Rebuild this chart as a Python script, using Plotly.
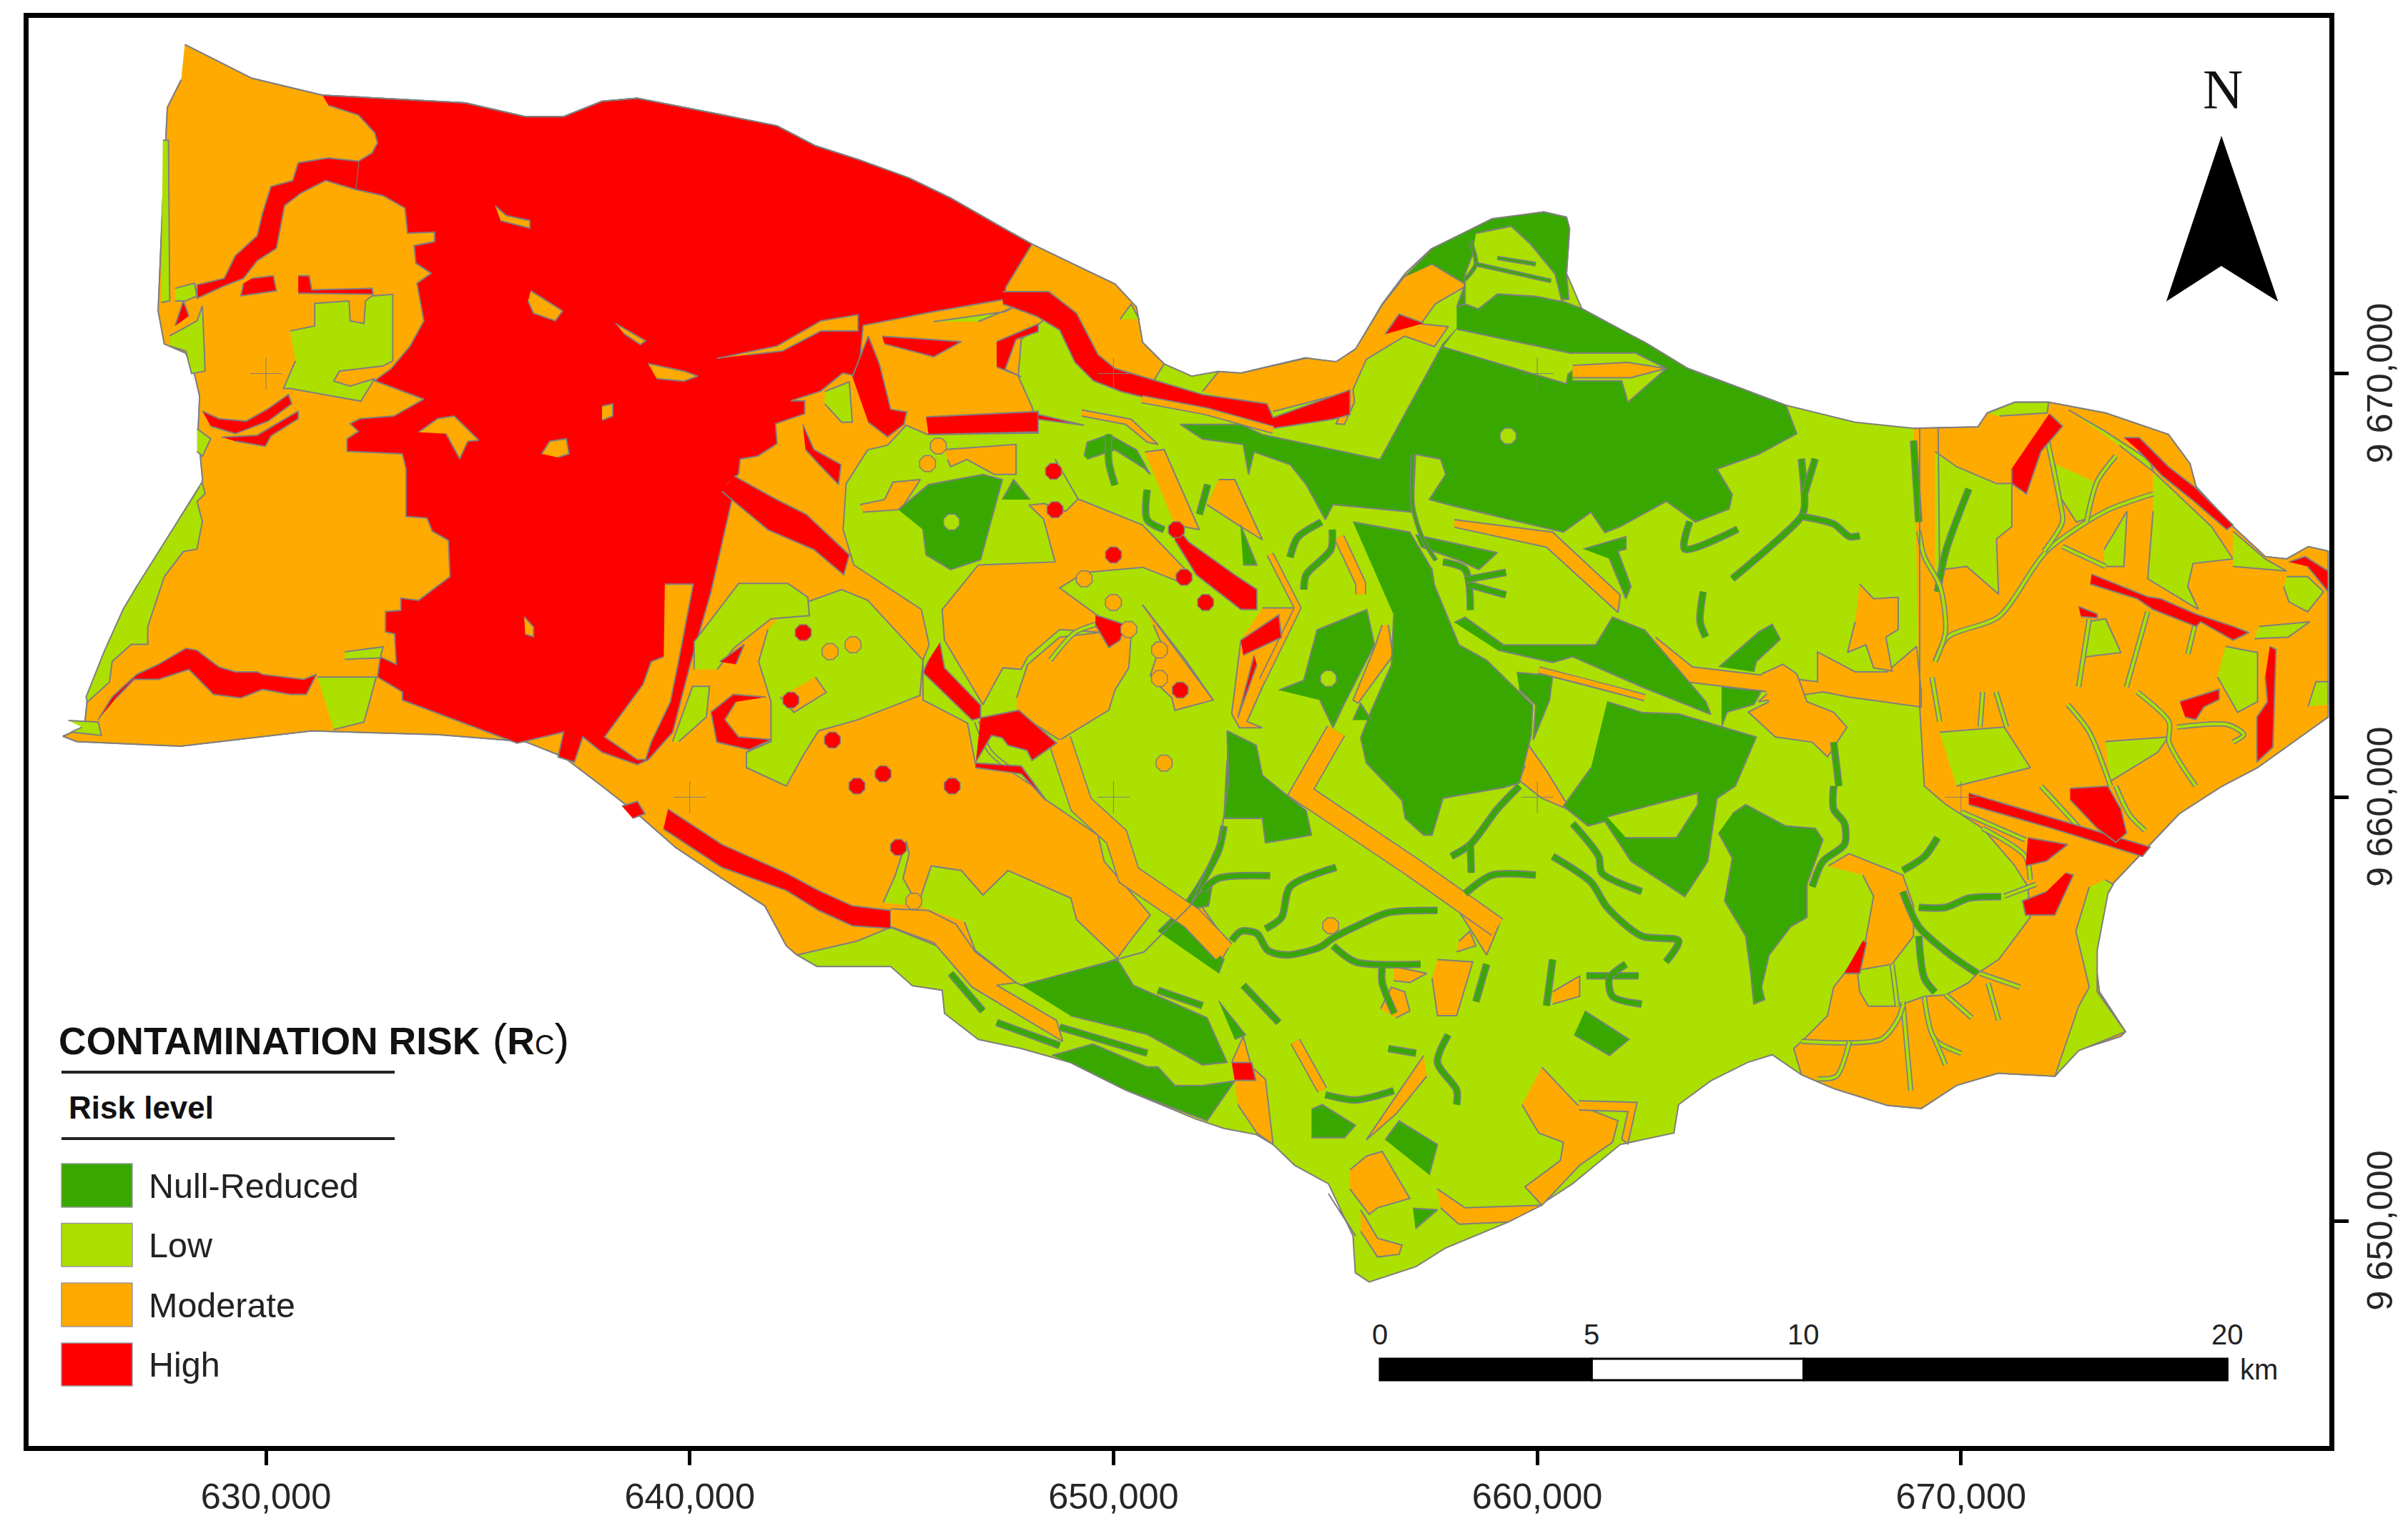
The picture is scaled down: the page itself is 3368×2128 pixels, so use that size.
import plotly.graph_objects as go

# ---------- categories and colours ----------
RISK_LEVELS = ["Null-Reduced", "Low", "Moderate", "High"]
RISK_COLOURS = {"Null-Reduced": "#38A800", "Low": "#ABE000", "Moderate": "#FFAA00", "High": "#FF0000"}
X_TICKS = [630000, 640000, 650000, 660000, 670000]
X_TICK_LABELS = ["630,000", "640,000", "650,000", "660,000", "670,000"]
Y_TICKS = [9650000, 9660000, 9670000]
Y_TICK_LABELS = ["9 650,000", "9 660,000", "9 670,000"]
GRID_CROSSES = [(630000, 9670000), (640000, 9660000), (650000, 9660000), (660000, 9670000),
                (660000, 9660000), (650000, 9670000), (670000, 9660000)]
SCALE_LABELS = [0, 5, 10, 20]

# ---------- digitised map units (sheet grid, georeferenced by to_map below) ----------
BOUNDARY = [(120.4,29),(164,51),(210,62),(303,67),(342,76),(367,76),(392,66),(415,64),(456,72),(506,82),(531,95),(559,104),(592,116),(619,129),(654,149),(672,159),(726,185),(740,200),(744,223),(758,237),(776,245),(793,242),(808,243),(850,233),(870,236),(883,227),(900,198),(915,178),(932,162),(972,143),(1005,138),(1020,141.5),(1022,149),(1020,178),(1030,201),(1039,209.5),(1071,223),(1099,240),(1163,264),(1208,275),(1246,279),(1288,278),(1294,269),(1312,262),(1334,262),(1371,269),(1412,283),(1426,302),(1430,317),(1454,343),(1475,362.5),(1489,364),(1503,356),(1516,359),(1516,467),(1470,500),(1447,512),(1419,530),(1372.5,579),(1364,622),(1367,646),(1384,672),(1381,675),(1353,684),(1338,701),(1301,699),(1274,707),(1251,722),(1229,720),(1194,709),(1173,700),(1154,687),(1138,692),(1114,704),(1093,719.5),(1090,738),(1055,745.5),(1024,771),(1004,784),(982,796),(941,813),(922,825),(891.5,835),(882.5,829),(881,805),(865,771),(843,759),(829,745.5),(818,739),(797,735),(779,729),(733,710),(697,692),(665,683),(637,677),(615,660),(613.5,645),(594,642),(580,629.5),(532,629.5),(519,622),(512,616),(498,590),(470,572),(440,552),(415,530),(392,512),(367,493),(342,483),(285,478.5),(203,476),(118,486),(50,483),(41,479.5),(55,473.6),(57,454),(68,425),(82,398),(93,379),(118,336),(132,313.5),(129,281),(130,258),(126.5,243),(121,230),(107,224),(103,202.5),(106,131),(109,70),(118,52)]

MODERATE_BASE = [
 [(120.4,29),(164,51),(210,62),(303,67),(342,76),(367,76),(392,66),(415,64),(456,72),(506,82),(531,95),(559,104),(592,116),(619,129),(654,149),(672,159),(726,185),(740,200),(744,223),(758,237),(750,250),(726,248),(710,240),(695,215),(680,208),(665,221),(663,245),(672,265),(676,282),(604,283),(590,277),(578,290),(565,293),(551,315),(549,345),(556,368),(600,397),(605,420),(601,430),(601,456),(630,471),(635,497),(665,499),(681,521),(715,544),(719,561),(749,596),(738,610),(727.6,624),(700,640),(620,620),(580,604),(558,613),(519,622),(512,616),(498,590),(470,572),(440,552),(415,530),(392,512),(367,493),(342,483),(285,478.5),(203,476),(118,486),(50,483),(41,479.5),(55,473.6),(57,454),(68,425),(82,398),(93,379),(118,336),(132,313.5),(129,281),(130,258),(126.5,243),(121,230),(107,224),(103,202.5),(106,131),(109,70),(118,52)],
 [(1246,279),(1288,278),(1294,269),(1312,262),(1334,262),(1371,269),(1412,283),(1426,302),(1430,317),(1454,343),(1475,362.5),(1489,364),(1503,356),(1516,359),(1516,467),(1470,500),(1447,512),(1419,530),(1372.5,579),(1364,622),(1367,646),(1384,672),(1381,675),(1353,684),(1338,701),(1301,699),(1274,707),(1251,722),(1229,720),(1194,709),(1173,700),(1168,683),(1176.6,675),(1190,661.5),(1194,643),(1201,634),(1209.5,634),(1211,646),(1216.5,655.4),(1235.5,655.4),(1253,649),(1267,648),(1282,640),(1287.6,634),(1301.4,625),(1322,597.5),(1320.5,577.6),(1312,564),(1291,539.5),(1267,524),(1253,512),(1250,460)],
 [(783,255),(793.5,242),(808,243),(850.5,233.3),(870,235.6),(882.6,227.4),(900.4,198),(914.6,180),(932.4,172),(950.3,175.2),(954,186.6),(934.5,198),(925.3,211),(943,212.7),(934,225.8),(914.6,219),(889.7,234),(881,253.6),(882,262),(875.4,276.4),(870,276),(879,255),(829,268)],
 [(1190.5,564),(1204,556),(1239,570),(1246,590),(1246,609.7),(1232,628),(1214.7,631),(1201,634),(1214.7,612.7),(1220,583.7),(1213,570)],
]

HIGH_BASE = [
 [(210,62),(303,67),(342,76),(367,76),(392,66),(415,64),(456,72),(506,82),(531,95),(559,104),(592,116),(619,129),(654,149),(672,159),(655,187),(654,195),(608,203),(583,208),(562,212),(559,245),(548.7,243),(534.5,254.7),(515,261),(524,261),(524,269.5),(505,276),(506,289),(493.5,297),(482,299),(481,308.6),(474,315),(477.4,321.7),(463,385.4),(449,434.4),(438,477),(422,495),(415,498),(392,490),(379.5,480),(374,496.4),(363.4,493),(367,476.8),(336.7,484),(262,456),(262,450.7),(245.8,441),(247.6,427.8),(258,432.7),(257,413),(251,411.5),(251,398.4),(261,397.5),(261,389.6),(272.6,391),(293,375.6),(292,352),(281.5,346),(278,337.4),(264.4,336.4),(264.4,305.4),(262,295.6),(226,294),(226,285.8),(233.4,281),(228,276),(234.4,272.7),(256.5,271),(276,260),(244,248),(254.8,240),(267,225.4),(276,209),(271.5,184.5),(280.8,178),(270.8,171.5),(269.7,160),(283,157.4),(283,151.2),(265.4,151.9),(263.7,135.5),(249.4,127.4),(231.6,123.5),(233.4,105),(242.3,99.6),(245.8,93),(244,86.5),(233.4,75),(213.8,68.6)],
 [(233.4,105),(213.8,102.9),(194.2,106),(190.6,117.6),(176.4,121.5),(171,138.8),(167.5,153.5),(153.2,166.6),(146,181.3),(128.3,185.5),(128.3,194.3),(146,186.2),(158.6,181.3),(167.5,169.8),(180,161.7),(183.5,143.7),(185.3,133.9),(196,125.7),(212,117.6),(231.6,123.5)],
 [(164,181.3),(178,179.6),(180,189.4),(156.8,192.7),(158.6,184.5)],
 [(194.2,179.6),(201.3,179.6),(203,188.8),(242.3,187.8),(243,191.7),(194.2,191)],
 [(114,212.3),(119.4,196),(123,205.8)],
 [(131.8,267.8),(142.5,272.7),(160.3,274.3),(174.6,266.2),(187.8,257),(190,263),(174.6,274.3),(153.2,282.5),(137.2,277.6)],
 [(144.3,284.8),(167.5,283.5),(194.2,267.8),(194.2,272.7),(176.4,284),(172.8,290.7),(153.2,287.4)],
 [(64,468.7),(73,454),(89,439.3),(103.3,432.7),(121,422.3),(128.3,423.6),(142.5,434.4),(153.2,437.6),(167.5,437.6),(171,439.3),(197.7,442.5),(206,439.3),(199.5,452.3),(188.8,452.3),(171,449),(156.8,454.6),(139,452.3),(123,436),(103.3,442.5),(87.3,442.5),(74.8,455.6)],
 [(653,190),(683,190),(701,204),(715,231),(726,240),(783,257),(825,263),(829,272),(879,254),(879,270),(868,273),(829,279),(790,270),(730,255),(712,248),(700,236),(690,215),(675,206),(653,198)],
 [(478,310),(505,325),(525,335),(553,361.4),(549.4,374.4),(530,358),(500,345),(470,320)],
 [(612,418.5),(615,435),(638.5,459.3),(638.5,467.5),(633,469),(601,438),(604.6,430)],
 [(435,527),(470,550),(512,568.7),(533,580),(555,590),(580,593),(580,604.7),(555,603),(533,593),(512,580),(470,565),(432,540)],
 [(405,525),(415,522),(420,530),(412,533)],
 [(555,245.4),(565.4,219),(572.6,237),(580,266.6),(590.4,268.3),(588.6,276.4),(578,284.6),(565.4,275)],
 [(522.7,276.4),(530,292.8),(547.6,302.6),(546,315.6),(533.4,302.6),(524.5,292.8)],
 [(574.4,219),(626,222.5),(608,232.4),(576,224)],
 [(649,222.5),(676,211),(676,216),(661.6,221),(654.5,240.5),(665,245.4),(649,239)],
 [(603,271.5),(676,268),(676,281.3),(604.6,283)],
 [(676,270),(706,277),(676,273)],
]

MODERATE_ISLANDS = [
 [(322.4,134),(329.6,140.4),(345,143.7),(345,148.6),(326,143.7)],
 [(345.6,189.4),(356.3,196),(366.3,202.5),(361.6,209),(347.4,204),(343.8,196)],
 [(400.8,210.7),(420.4,222),(416.9,224.4),(406.2,217.2)],
 [(422,236.8),(445.4,241.7),(454.3,245),(445.4,248.2),(427.6,246.6)],
 [(392,264.5),(399,263),(399,271),(392,273.7)],
 [(352.7,295.6),(358,287.4),(368.8,285.8),(370.5,295.6),(363.4,297.9)],
 [(272.6,281.5),(285,272.7),(295.7,271),(311.8,286.8),(304.6,287.4),(299.3,298.8),(290.4,282.5)],
 [(341.3,401.7),(347.4,408.3),(347.4,414.8),(342,413)],
 [(466.8,233.5),(506,225.4),(534.5,209),(558.7,205),(558.7,215.6),(534.5,215.6),(509.5,228.6),(486.3,231.2)],
 [(432.9,380.5),(451.4,380.5),(441.8,431),(436.5,457.2),(424,483.4),(420.4,494.8),(415,494.8),(393.7,480),(418.7,445.8),(424,431),(432.2,427.8)],
]

LOW_PATCHES = [
 [(106,91.4),(109.7,91.4),(110.5,196),(105,197)],
 [(110.5,218.8),(128.3,209),(131.8,199.2),(133.6,241.7),(124.7,243.3),(121,228.6),(110.5,225.4)],
 [(114,187.8),(126.5,184.5),(128.3,192.7),(121,196),(114,196)],
 [(188.8,215.6),(204.9,212.3),(204.9,197.6),(227.3,196),(228,209),(237,210.7),(238,196),(242.3,192.7),(255.8,191.7),(255.8,235),(249.4,238.4),(221,241.7),(217.3,248.2),(228,251.5),(244,246.6),(235,261.3),(188.8,253),(184.6,253),(192.4,235)],
 [(128.3,279.2),(137.2,285.8),(131.8,297.2),(128.3,294)],
 [(131.8,315),(133.6,321.7),(128.3,326.6),(131.8,339.7),(128.3,357.6),(119.4,359.3),(107,375.6),(96.2,408.3),(96.2,419.7),(85.5,419.7),(73,431),(71.3,444.2),(57,457.2),(56,454),(67.7,424.6),(80.2,396.8),(89,382),(117.6,336.4),(130,316.8)],
 [(206.7,441),(245,441),(237,470.3),(217.3,475.2)],
 [(44.5,469.3),(64,470.3),(66,479),(46.3,476.8),(53.4,473.6)],
 [(224.5,424.6),(249.4,421.3),(247.6,428.5),(224.5,429.5)],
 [(512,397),(548,384),(565,391),(601,430),(599,453),(558,469),(533,476),(523,492),(512,512),(486,500),(486,490),(502,483),(502,457),(494,431),(500,410)],
 [(452,436),(452,418),(481,380),(513,380),(526,389),(527,401),(502,403),(478,422),(467,436)],
 [(438,483),(451,447),(462,447),(460,467),(442,483)],
 [(537,255),(553,248.7),(555,275),(548,275),(537,263)],
 [(608,209.5),(654.5,203),(660,200),(637,209.5)],
 [(729.3,208),(736.5,198),(741.8,208)],
 [(597.5,590),(606.4,564),(626,567),(640,583),(656.3,567),(697.3,585),(701,599),(727.6,624.3),(697.3,635.6),(665,641.7),(661.6,640),(635,619),(628,600.5)],
 [(575,588),(583,570),(590,548),(592,556),(588,572),(598,590)],
 [(1260,294),(1274,304),(1300,315),(1310,315),(1310,343),(1300,351),(1301.4,387),(1280.6,369),(1267,370.7),(1260,375.6)],
 [(1338,302),(1341,323),(1352,340),(1359,338),(1366,315)],
 [(1402,307),(1440,343),(1454,364),(1428,367),(1424.6,382),(1431.5,397),(1398.5,377),(1402,333)],
 [(1347,267),(1371,281),(1400,300),(1402,307),(1380,290)],
 [(1454,346),(1475,364),(1489,372),(1454,369)],
 [(1489,375.6),(1502.6,375.6),(1513,385.4),(1502.6,398.5),(1490.4,392),(1487,382)],
 [(1370,358),(1385,333),(1383,369),(1370,369)],
 [(1449,421),(1470,425),(1470,457),(1457,464),(1444,441)],
 [(1503,460),(1508,444),(1516,444),(1516,459)],
 [(1359,405),(1371,403),(1381,425),(1357,428)],
 [(1263,477),(1305,473.6),(1322,500),(1274,512)],
 [(1371,483),(1412,480),(1405,490),(1374,509)],
 [(1471,408),(1504,405),(1490,415),(1468,416)],
 [(1294,269),(1312,262),(1334,262),(1333,269),(1302,271)],
 [(1371,573),(1376,576),(1372.6,582),(1365.6,619),(1365.6,646),(1384,672),(1353.5,684.4),(1338,701),(1353.5,655.4),(1360.4,643),(1351.7,606.6),(1360.4,577.6)],
]

MODERATE_PATCHES = [
 [(687,299),(702,325),(744,342),(772,371),(768,379),(744,369.5),(706,373),(690,383),(719,404),(719,412),(690,410),(669,428),(665,436),(653,435),(640,459),(615,417),(613.5,397),(637,368),(687,366),(679.5,338),(670,329),(680,328),(694,333),(702,325)],
 [(662,454.5),(669,433),(690,415),(715,412),(736.5,413.6),(735,435),(726,449.5),(722,462.6),(690,482),(662,464)],
 [(744,394),(790,456),(765,462.6),(763,454.5),(754,446),(749,440),(756,418.5),(751,407)],
 [(560,328.7),(576,325.4),(581.5,314),(599.3,312.4),(588.6,328.7),(585,332),(562,333.6)],
 [(615,292.8),(661.6,289.5),(661.6,309),(647.4,309),(629.6,299.3),(619,304),(617,299.3)],
 [(704.4,267),(736.5,273),(754,289.5),(747,288),(733,276.4),(704.4,271)],
 [(745.4,294.4),(758,292.8),(781,345),(765,342)],
 [(793.5,312.4),(804,312.4),(822,351.6),(806,341.8),(786,328.7)],
 [(822,396),(845,396),(812,470),(822,474),(807,474),(802,465),(808,417)],
 [(580,592),(604.6,593),(622.5,602),(635,620),(661.6,640),(649,641.7),(688,664.6),(692,678.3),(633,643),(608,614),(580,603.6)],
 [(531,441),(538,451),(517,464),(508,454)],
 [(802,692),(809.5,675),(815,695),(824,703),(829,745.5),(818.4,738),(806,719.5)],
 [(927,687.5),(889.7,742.4),(909,725.6),(929,701)],
 [(936,625),(959,626.5),(948.5,661.6),(936,661.6),(932.5,637)],
 [(907.5,629.5),(929,634),(918,640),(907.5,638.7)],
 [(899,657),(906,643),(914.6,646),(918,658.5),(909,663)],
 [(950,613),(957,606.6),(961,616),(948.5,620)],
 [(936,571.5),(977,600.5),(968,622),(950.3,594)],
 [(1011,646),(1028.6,635.6),(1028.6,649),(1011,654)],
 [(1004,695),(1027,719.5),(1053.6,730),(1050,744),(1028.6,759),(1004,785),(993,773),(1016,756),(1018,744),(1002,738),(991,719.5)],
 [(936,774.5),(954,786.7),(1004,785),(982,796),(950,797.4),(938,786.7)],
 [(879,762),(889.7,753),(900,750),(918,780.6),(897,786.7),(891.5,791),(879,774.5)],
 [(886,788),(897,806.5),(913,811),(911,817),(897,818.7),(886,802)],
 [(947,338.5),(1011,346.6),(1055,387.5),(1053.6,399),(1007,356.4),(947,343.4)],
 [(904,407),(907,427),(884.3,458),(881,456),(895,422),(900,407)],
 [(1078,415),(1102,434.4),(1183.5,444),(1183.5,424.6),(1208,437.6),(1228.6,437.6),(1248,421),(1251,450.7),(1251,460.5),(1204,454),(1187,450.7),(1145,457),(1152,450.7),(1097,444),(1078,424.6)],
 [(1147,439),(1161,432.7),(1170,439),(1176.6,457),(1194,464),(1202.6,473.6),(1190,493),(1180,483.4),(1156,480),(1138.4,463.8),(1152,457)],
 [(1211,380.5),(1220,390),(1236,389),(1236,410),(1228,415),(1232,437),(1220,435),(1215,420),(1203,425),(1208,405)],
 [(993,482),(1007,502),(1023,528),(1004,520),(989.4,508.4),(993,498.5)],
 [(768.5,600),(781,588.3),(800.6,616),(795,626)],
 [(1028,717),(1066,718),(1060,745),(1056,742),(1060,724),(1028,723)],
]

NULL_AREAS = [
 [(915,180),(932.4,162),(971.6,142.5),(1005.5,138),(1020,141.5),(1022,149),(1020,178.5),(1021.5,195),(954,198),(948.5,200),(954,185),(932.4,172)],
 [(948.5,200),(975,191.5),(1000,193),(1018,196.4),(1030,201),(1071,223),(1099,240),(1163,264),(1170,282.5),(1145,296),(1118,305.5),(1128,322),(1126,331.5),(1104,340),(1085,326.6),(1055,343),(1045,347),(1036,333.6),(1018,346.6),(1004,343.4),(943,328.7),(930.7,325.4),(941.4,309),(938,299),(921.7,296),(920,333.6),(868,328.7),(863,338.5),(850.5,315.6),(840,302.6),(816.6,294.4),(813,309),(809.5,289.5),(783,286),(768.5,276.4),(808,276.4),(822,283),(898.6,299.3),(939.6,224),(948.5,214.4)],
 [(881,340),(918,346.6),(932.5,371),(934,381),(950,420),(968,430),(998,459.3),(997,479),(989.4,510),(979,513),(950,518),(939.6,520),(932.5,544),(927,544),(915,533),(913,521.4),(889.7,497),(886,480.6),(893,462.6),(906,433),(907.5,400.5)],
 [(832.7,449.5),(849,443),(857.6,410.3),(890,397),(895,420),(875.5,458),(868,474),(859.4,456)],
 [(881,469),(886,458),(893,469)],
 [(1046.5,457),(1069,464),(1093,465),(1143.6,480),(1130,512),(1118,520),(1112,561),(1097,584),(1062,561),(1045,535),(1034,538),(1018,525),(1036,500)],
 [(1128,530),(1136.7,524),(1162.7,538),(1182,539.5),(1187,547),(1176.6,576),(1176.6,597.5),(1166,603.6),(1152,622),(1147,643),(1149,651),(1142,654),(1140,634),(1136.7,609.7),(1123,586.8),(1128,559),(1119,542.5)],
 [(799,476),(818,485.4),(822,505),(850.5,528),(854,544),(824,549),(822,533),(797,533),(799,495)],
 [(585,332),(604.6,315.6),(640,309),(652.7,312.4),(638.5,364.6),(619,371),(603,361.4),(601,345)],
 [(652.7,325.4),(660,312.4),(670.6,325.4)],
 [(921.7,348.3),(975,360),(963,371),(950,365),(925,356)],
 [(947,405.4),(954,402),(979,420),(1039,420),(1050,402),(1071,410.4),(1110.7,457),(1114,465.4),(1069,447.4),(1024,427.8),(1011,431.6),(975,423.4)],
 [(987.6,438),(1011,440),(1009,456),(998.4,482),(1000,459.3),(989.4,449.5)],
 [(1119.4,434.4),(1145.4,411.5),(1154,406.6),(1159.2,416.4),(1143.6,431),(1142,437.6)],
 [(1031,357.6),(1058.7,349.5),(1058.7,357.6),(1053.5,359),(1062,382),(1058.7,390),(1048,364)],
 [(1121,447.4),(1147,450),(1142,458.9),(1124.6,463.8),(1121,473.6)],
 [(1032,658.5),(1060.7,677),(1048,687.5),(1025,674)],
 [(854,722.5),(861,719.5),(882.6,733),(875.5,741),(854,741)],
 [(902,742.4),(911,730),(936,745.5),(930.7,765.3)],
 [(920,787),(936,788),(921.7,800.4)],
 [(865,777.5),(882.6,805),(872,788)],
 [(665,641.7),(727.6,625),(738,641.7),(786,663),(799,692),(783,693.6),(747,673.8),(697,661.6)],
 [(685,687.5),(711.5,680),(747,695),(754,695),(765,707),(783,707),(804,704),(786,730),(733,710),(697,692)],
 [(754,606.6),(765,596),(797,625),(793.5,634)],
 [(793.5,652),(811,674),(804,677)],
 [(774,588),(783,580),(790,572),(787,590),(776,592)],
 [(706,297),(708,288),(722,283),(740,293),(749,309),(745,305),(726,293),(708,299)],
 [(807.7,341.8),(818.4,368),(809.5,368)],
]

LOW_ON_NULL = [
 [(961,152),(984,147.4),(996.6,159),(1012.6,178.5),(1017,196.4),(1000,193),(975,191.5),(962.7,201.3),(954,198),(954,178.4),(959,165.4)],
 [(948.5,214.4),(1034,232.4),(1021,244),(1020,250),(939.6,226)],
 [(1046.5,532),(1105.5,516.6),(1105.5,524),(1091.6,545.6),(1058.7,545.6)],
 [(1024,230),(1065,230),(1085,240),(1060,262),(1056,248),(1024,248)],
]
MODERATE_OVER_LOW = [
 [(1024,238),(1060,236),(1085,240),(1062,246),(1024,246)],
]

HIGH_TOP = [
 [(638.5,467.5),(663.4,462.6),(688,484),(672,495.3),(668.8,488.8),(656.3,485.4),(652.7,480.6),(645.6,479),(635,497),(665,499),(681,521.4),(665,504),(635,500)],
 [(765,341.8),(774,353),(804,374.4),(818.4,384),(818.4,397),(808,397),(779,374.4),(765,351.6)],
 [(808,417),(832.7,400.5),(834.4,415.2),(809.5,426.7)],
 [(816.6,426.7),(806,467.5),(818.4,433)],
 [(713.3,400.5),(733,407),(729.3,417),(722,421.8),(713.3,407)],
 [(498.8,454),(477.4,452.3),(463,463.8),(466.8,483.4),(488,488.3),(502.4,481.7),(481,480),(472,468.7),(479.2,457.2)],
 [(468.6,431),(484.6,419.7),(479.2,432.7)],
 [(902,217.6),(911,204.6),(927,210.5)],
 [(1334.4,269.4),(1343,277.6),(1329,294),(1319.5,321.7),(1310,315),(1310,305)],
 [(1383,285),(1393,285),(1412,304),(1430,318),(1454,342),(1450,345),(1428,326),(1408,310),(1392,293)],
 [(1490.4,366),(1501,362.5),(1516,372),(1516,385.4),(1502.6,369)],
 [(1362,374),(1398.5,388.7),(1407,390),(1430,400),(1454,408),(1464.4,412),(1454,417),(1433,405),(1430,408),(1402,397),(1391.6,390),(1361,380.5)],
 [(1353.5,395),(1365.6,400),(1365.6,402.4),(1355,401.7)],
 [(1478,421),(1482,423),(1480,486.6),(1469.6,496.4),(1469.6,467),(1476.5,457),(1475,441)],
 [(1419.4,457),(1445,449),(1445,455.6),(1435,460.5),(1429.8,468.7),(1422.8,467)],
 [(1282,516.6),(1400,551.7),(1395,557.8),(1336,539.5),(1282,524)],
 [(1348,513.5),(1372.5,512),(1381,527),(1384.7,542.5),(1377.7,548.6),(1365.6,539.5),(1348,521)],
 [(1320.5,545.6),(1346.5,550),(1332.6,560.8),(1319,564)],
 [(1345,568.5),(1350,570),(1338,596),(1319,596),(1317,586.8),(1332.6,580.7)],
 [(1213,612.7),(1215.4,614),(1211,634),(1201,634)],
 [(802,692),(815,692),(817.7,703.7),(804,703.7)],
]

MODERATE_CORRIDORS = [
 [(870,476),(847,516),(920,565),(975,604)],
 [(690,482),(704,524),(727,545),(735,570),(776,598),(797,620)],
 [(1002,436.4),(1028.6,443),(1071,454.4)],
 [(843.4,678.3),(861,710)],
 [(743.6,260),(786,268),(829,280)],
 [(872,350),(886,380),(886,387)],
 [(827,361),(845,396),(822,443)],
]
CORRIDOR_WIDTHS = [26, 30, 7, 12, 8, 12, 7]

NULL_RIVERS = [
 [(1194,512),(1194,527),(1201,536.4),(1201,550),(1187,561),(1180,577.6)],
 [(1239,580.7),(1249.4,603.6),(1270,622),(1287.6,634)],
 [(1249.4,591),(1267,591),(1282,585),(1303,584)],
 [(1249.4,609.7),(1253,637),(1260,646.3)],
 [(1239,567),(1253,558),(1261.6,545.6)],
 [(797,538),(793.5,554),(783,574),(774,588)],
 [(783,580),(793.5,572),(827,570.4)],
 [(824,605),(834.5,597.5),(840,577.6),(870,565)],
 [(802,612.7),(808,606.6),(818.4,608),(825.5,619),(838,622),(859.4,617),(868,611),(882.6,603.6),(904,594.4),(936,593)],
 [(868,616),(882.6,626.5),(925,628)],
 [(900,629.5),(900,640),(908,660)],
 [(954,582),(971.6,570),(1000,570)],
 [(1011,557.8),(1036,574.6),(1046.5,591),(1069,609.7),(1093,612.7),(1084.7,626.5)],
 [(1024,536.4),(1041,557.8),(1043,568.5),(1069,580.7)],
 [(945,557.8),(957.4,550),(975,527),(989.4,512)],
 [(957.4,550),(958,568.5)],
 [(1033,635.6),(1067,635.6)],
 [(1058.7,628),(1048,637),(1050,649),(1069,654)],
 [(1011,625),(1007,655)],
 [(904,683),(922,686)],
 [(943,674),(936,692),(948.5,710),(948.5,719.5)],
 [(968,628),(961,652.4)],
 [(863,713),(882.6,716.5),(907.5,710.4)],
 [(809.5,641.7),(825.5,658.5),(832.7,666)],
 [(619,634),(640,658.5)],
 [(649,666),(690,681)],
 [(690,669),(747,686)],
 [(754,645),(783,655)],
 [(840,363),(845,350),(860.5,340)],
 [(849,384),(850.5,374.4),(866.5,358),(867.5,345)],
 [(939.6,366),(954,371),(957.4,397.3)],
 [(954,377.7),(980.6,372.8)],
 [(957.4,381),(980.6,387.5)],
 [(1173,298.8),(1175,330),(1173,336.4),(1128,377)],
 [(1173,336.4),(1194,341.3),(1204.3,349.5),(1211,349)],
 [(1182,298.8),(1175,321.7)],
 [(1100.3,339.7),(1097,357.6),(1131.5,344.6)],
 [(1109,385.4),(1107,405),(1110.7,414.8)],
 [(1194,483.4),(1197.4,512)],
 [(1246,287),(1249.4,340)],
 [(1282,318.4),(1267,359),(1261.6,385.4)],
 [(747,319),(747,338.5),(758,345)],
 [(786.4,315.6),(781,335)],
 [(722,283),(722,301),(726,316)],
]
NULL_RIVER_WIDTH = 7
NULL_CREEKS = [
 [(957.4,157),(961,172),(954,182)],
 [(961,172),(1010,183)],
 [(975,168),(1000,172)],
 [(920,296),(920,330),(926,350),(935,365)],
]
NULL_CREEK_WIDTH = 3

LOW_STREAMS = [
 [(1402,321.7),(1371,333),(1332.6,359),(1301.4,401.7),(1268.5,414.8),(1260,431)],
 [(1332.6,284),(1341.3,326.6),(1343,339.7),(1331,359)],
 [(1249.4,346),(1253,362.5),(1263.3,382),(1266.8,411.5),(1260,431)],
 [(1377.7,297),(1365.6,313.5),(1358.7,339.7)],
 [(1343,356),(1371,369)],
 [(1258,441),(1263,470)],
 [(1291,450.7),(1289.3,473.6)],
 [(1299.7,450.7),(1306.6,473.6)],
 [(1346.5,458.9),(1360.4,476.8),(1374.3,512)],
 [(1391.6,450.7),(1412.4,470.3),(1412.4,483.4),(1429.8,512)],
 [(1398.5,398.4),(1384.7,447.4)],
 [(1429.8,405),(1424.6,426)],
 [(1360.4,403.3),(1353.5,447.4)],
 [(1417.6,473.6),(1450.6,472),(1461,478.5),(1454,483.4)],
 [(1239,652.4),(1244.2,710.4)],
 [(1253,649.3),(1259.8,676.8),(1277,686)],
 [(1259.8,676.8),(1266.8,693.6)],
 [(1173,678.3),(1225,676.8),(1235.5,664.6),(1239,655.4)],
 [(1204.3,678.3),(1195.7,701),(1183.5,702.7)],
 [(1267,648),(1284,663)],
 [(1289.3,634),(1315.3,643)],
 [(1294.5,640.2),(1301.4,664.6)],
 [(1232,628),(1235.5,655.4)],
 [(1277,528.8),(1318.8,547)],
 [(1291,539.5),(1318.8,557.8),(1322,573)],
 [(1305,583.7),(1325.7,576)],
 [(1377.7,512),(1386.4,530.3),(1396.8,541)],
 [(1329,512),(1357,542.5)],
 [(684,430),(700,412),(716,406)],
 [(636,470),(645,490),(672,510)],
]
LOW_STREAM_WIDTH = 4

BOUNDARY_LINES = [
 [(799,476),(800,510),(795,545),(775,590),(745,620),(727,625)],
 [(744,394),(772,430),(790,456)],
 [(1250,279),(1250,460)],
 [(1262,279),(1263,374)],
]

HIGH_DOTS_E = [(686,307),(725,361.4),(771,376),(766,345),(785,392.4),(523,412),(558,512),(575,504),(620,512),(585,552),(542,482),(515,456),(768.5,449.5),(687,332)]
MODERATE_DOTS = [(611,290.5),(604,302),(540.5,424.4),(555.5,420),(758,497),(595,587),(866.5,603),(725,392.4),(706,377),(735,410),(755,423.4),(755,442)]
LOW_DOTS = [(619.6,340),(865,442),(982,284)]

NORTH_ARROW = [(1446.4,88.8),(1483,196),(1446.4,173),(1410.7,196)]

# ---------- sheet geometry ----------
W, H = 3368, 2128
L, R, T, B = 40, 110, 25, 105
PX_PER_KM = 59.27
X0_PX, Y0_PX = 372.0, 522.6      # pixel position of 630,000 / 9 670,000
SHEET = 2.148

def E_of_px(p): return 630000 + (p - X0_PX) / PX_PER_KM * 1000
def N_of_px(p): return 9670000 - (p - Y0_PX) / PX_PER_KM * 1000
def to_map(points):
    return [E_of_px(p[0] * SHEET) for p in points], [N_of_px(p[1] * SHEET) for p in points]
def fx(p): return (p - L) / (W - L - R)
def fy(p): return 1 - (p - T) / (H - T - B)

GREY = "#7f7f7f"
fig = go.Figure()

def area(points, level, edge=GREY, lw=2):
    xs, ys = to_map(points)
    fig.add_trace(go.Scatter(x=xs, y=ys, mode="lines", fill="toself", fillcolor=RISK_COLOURS[level],
                             line=dict(color=edge, width=lw), hoverinfo="skip", showlegend=False))

def stroke(points, colour, width, smooth=False):
    xs, ys = to_map(points)
    line = dict(color=colour, width=width)
    if smooth and len(points) > 2:
        line.update(shape="spline", smoothing=0.8)
    fig.add_trace(go.Scatter(x=xs, y=ys, mode="lines", line=line, hoverinfo="skip", showlegend=False))

def strip(points, level, width, smooth=True):
    stroke(points, GREY, width + 3.5, smooth)
    stroke(points, RISK_COLOURS[level], width, smooth)

area(BOUNDARY, "Low")
for p in MODERATE_BASE: area(p, "Moderate")
for p in HIGH_BASE: area(p, "High")
for p in MODERATE_ISLANDS: area(p, "Moderate")
for p in LOW_PATCHES: area(p, "Low")
for p in MODERATE_PATCHES: area(p, "Moderate")
for p in NULL_AREAS: area(p, "Null-Reduced")
for p in LOW_ON_NULL: area(p, "Low")
for p in MODERATE_OVER_LOW: area(p, "Moderate")
for p, w in zip(MODERATE_CORRIDORS, CORRIDOR_WIDTHS): strip(p, "Moderate", w, smooth=False)
for p in NULL_RIVERS: strip(p, "Null-Reduced", NULL_RIVER_WIDTH)
for p in NULL_CREEKS: strip(p, "Null-Reduced", NULL_CREEK_WIDTH)
for p in LOW_STREAMS: strip(p, "Low", LOW_STREAM_WIDTH)
for p in HIGH_TOP: area(p, "High")
for p in BOUNDARY_LINES: stroke(p, GREY, 2)

for dots, level in [(MODERATE_DOTS, "Moderate"), (HIGH_DOTS_E, "High"), (LOW_DOTS, "Low")]:
    xs, ys = to_map(dots)
    fig.add_trace(go.Scatter(x=xs, y=ys, mode="markers", hoverinfo="skip", showlegend=False,
                             marker=dict(symbol="octagon", size=24, color=RISK_COLOURS[level],
                                         line=dict(color=GREY, width=1.5))))

fig.add_trace(go.Scatter(x=[c[0] for c in GRID_CROSSES], y=[c[1] for c in GRID_CROSSES], mode="markers",
                         hoverinfo="skip", showlegend=False,
                         marker=dict(symbol="cross-thin", size=32, line=dict(color=GREY, width=1))))

xs, ys = to_map(NORTH_ARROW)
fig.add_trace(go.Scatter(x=xs, y=ys, mode="lines", fill="toself", fillcolor="black",
                         line=dict(color="black", width=1), hoverinfo="skip", showlegend=False))

# scale bar, measured along the map's own easting
SB_E0 = E_of_px(1930)
SB_TOP, SB_BOT = N_of_px(1901), N_of_px(1931)
shapes = []
for a, b, col in [(0, 5, "black"), (5, 10, "white"), (10, 20, "black")]:
    shapes.append(dict(type="rect", xref="x", yref="y", x0=SB_E0 + a * 1000, x1=SB_E0 + b * 1000,
                       y0=SB_BOT, y1=SB_TOP, fillcolor=col, line=dict(color="black", width=3), layer="above"))

annotations = []
for km in SCALE_LABELS:
    annotations.append(dict(x=SB_E0 + km * 1000, y=N_of_px(1867), xref="x", yref="y", text=str(km), showarrow=False,
                            font=dict(size=40), xanchor="center", yanchor="middle"))
annotations.append(dict(x=fx(3131), y=fy(1916), xref="paper", yref="paper", text="km", showarrow=False,
                        font=dict(size=40), xanchor="left", yanchor="middle"))
annotations.append(dict(x=fx(3109), y=fy(125), xref="paper", yref="paper", text="N", showarrow=False,
                        font=dict(size=78, family="Liberation Serif", color="#111"), xanchor="center", yanchor="middle"))

# legend
annotations.append(dict(x=fx(80), y=fy(1453), xref="paper", yref="paper", showarrow=False, xanchor="left", yanchor="middle",
                        text="<b>CONTAMINATION RISK</b><span style='font-size:62px'> (</span><b>R</b>"
                             "<span style='font-size:38px'>C</span><span style='font-size:62px'>)</span>",
                        font=dict(size=53.5, color="#111")))
annotations.append(dict(x=fx(94), y=fy(1549), xref="paper", yref="paper", showarrow=False, xanchor="left", yanchor="middle",
                        text="<b>Risk level</b>", font=dict(size=44, color="#111")))
for yy in (1500, 1593):
    shapes.append(dict(type="line", xref="paper", yref="paper", x0=fx(86), x1=fx(552), y0=fy(yy), y1=fy(yy),
                       line=dict(color="#222", width=4), layer="above"))
for level, (y0, y1) in zip(RISK_LEVELS, [(1628, 1689), (1711.5, 1772), (1795, 1856), (1879, 1939)]):
    shapes.append(dict(type="rect", xref="paper", yref="paper", x0=fx(86), x1=fx(185), y0=fy(y1), y1=fy(y0),
                       fillcolor=RISK_COLOURS[level], line=dict(color="#999", width=1.5), layer="above"))
    annotations.append(dict(x=fx(206), y=fy((y0 + y1) / 2), xref="paper", yref="paper", text=level, showarrow=False,
                            font=dict(size=48.5, color="#222"), xanchor="left", yanchor="middle"))

AXIS_STYLE = dict(showgrid=False, zeroline=False, showline=True, linecolor="black", linewidth=7, mirror=True,
                  ticks="outside", ticklen=20, tickwidth=5, tickcolor="black", automargin=False,
                  tickfont=dict(size=50.5, color="#262626"))

fig.update_layout(
    width=W, height=H, autosize=False,
    margin=dict(l=L, r=R, t=T, b=B, pad=0),
    paper_bgcolor="white", plot_bgcolor="white",
    font=dict(family="Liberation Sans", color="#222"),
    xaxis=dict(range=[E_of_px(L), E_of_px(W - R)], tickmode="array", tickvals=X_TICKS, ticktext=X_TICK_LABELS, **AXIS_STYLE),
    yaxis=dict(range=[N_of_px(H - B), N_of_px(T)], side="right", tickmode="array", tickvals=Y_TICKS,
               ticktext=[t + "\u00a0\u00a0\u00a0" for t in Y_TICK_LABELS], tickangle=-90, **AXIS_STYLE),
    shapes=shapes, annotations=annotations,
)

fig.write_html("out.html", config={"displayModeBar": False},
               post_script="document.body.style.margin='0';document.body.style.overflow='hidden';")
